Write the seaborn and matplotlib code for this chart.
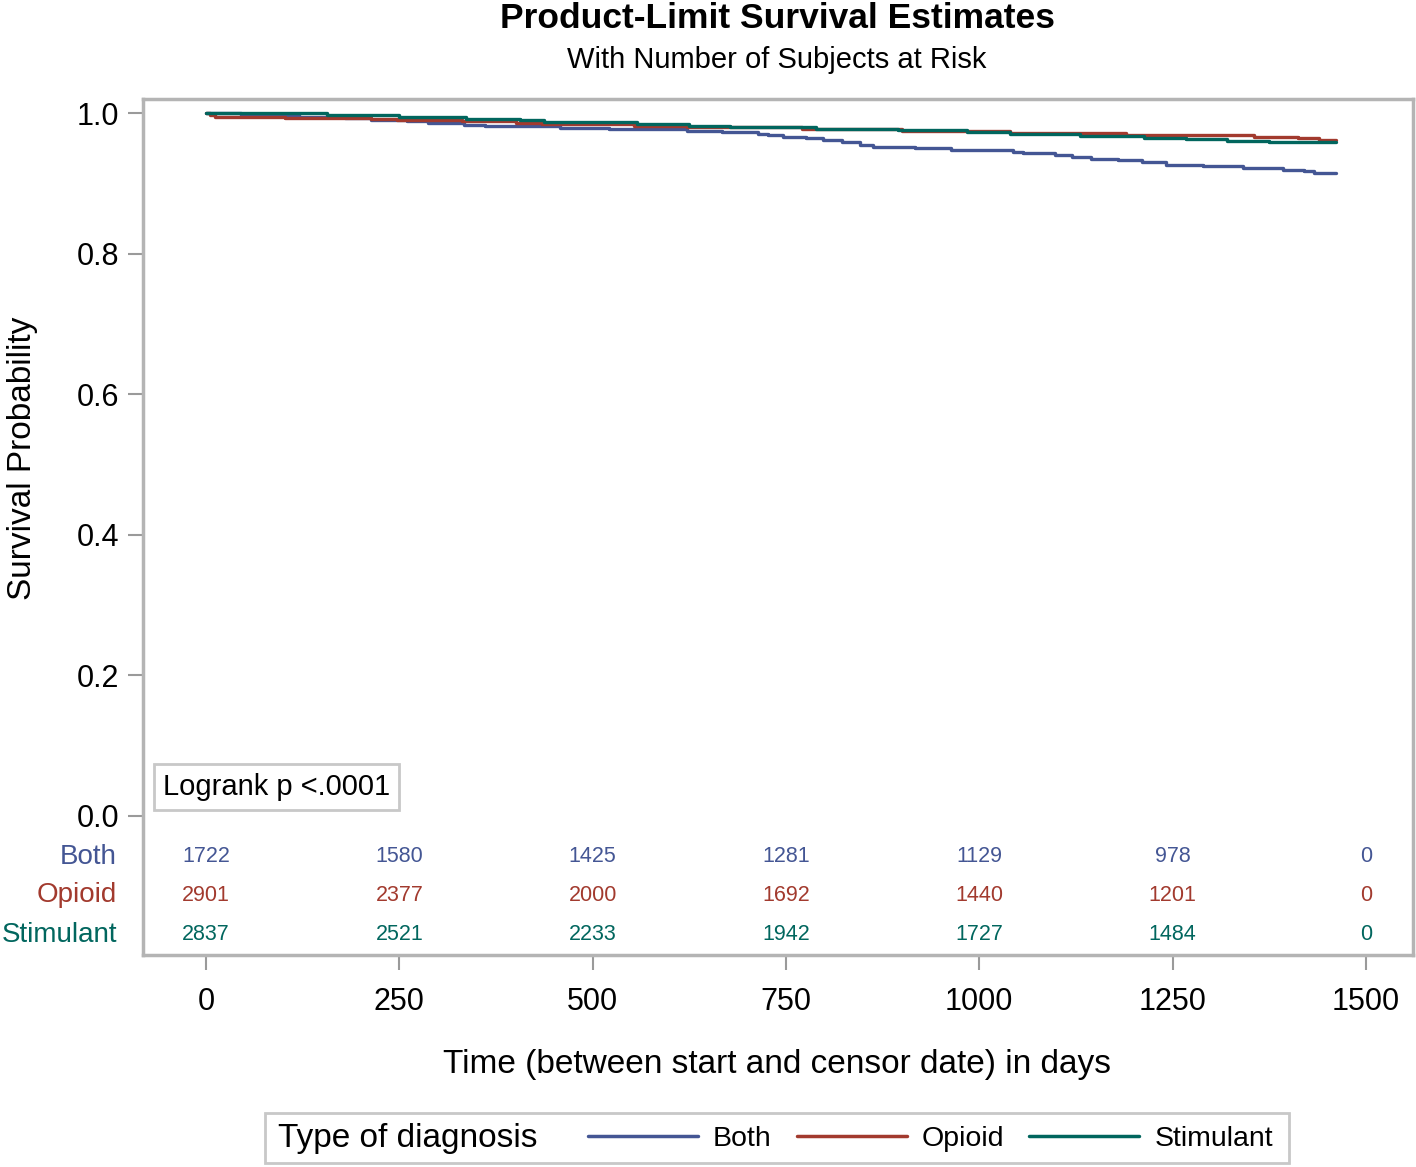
import numpy as np
import pandas as pd
import matplotlib
matplotlib.use("Agg")
import matplotlib.pyplot as plt
import seaborn as sns
from matplotlib.lines import Line2D
from matplotlib.patches import Rectangle

# survival step data (day, survival probability)
both_days = [0, 45, 120, 180, 214, 260, 287, 334, 361, 458, 521, 622, 667, 714,
             727, 746, 776, 798, 822, 846, 862, 917, 963, 1044, 1057, 1098, 1120,
             1144, 1179, 1211, 1241, 1290, 1341, 1393, 1420, 1433, 1462]
both_surv = [1.0, 0.997, 0.995, 0.993, 0.9905, 0.9886, 0.986, 0.983, 0.9815, 0.979,
             0.977, 0.9744, 0.9725, 0.970, 0.9687, 0.9663, 0.964, 0.9612, 0.9587,
             0.9545, 0.952, 0.9498, 0.9474, 0.9445, 0.9427, 0.9398, 0.9374, 0.935,
             0.9327, 0.9303, 0.926, 0.9242, 0.9222, 0.9193, 0.917, 0.9142, 0.9142]

opioid_days = [0, 5, 12, 102, 214, 247, 331, 401, 434, 553, 622, 771, 900, 1040,
               1190, 1355, 1412, 1440, 1462]
opioid_surv = [1.0, 0.997, 0.995, 0.9929, 0.9915, 0.990, 0.988, 0.9855, 0.984, 0.982,
               0.980, 0.977, 0.9745, 0.9716, 0.9687, 0.9654, 0.964, 0.962, 0.962]

stim_days = [0, 157, 250, 336, 406, 437, 557, 625, 678, 789, 895, 984, 1040, 1130,
             1213, 1268, 1320, 1375, 1462]
stim_surv = [1.0, 0.997, 0.9947, 0.992, 0.990, 0.9877, 0.985, 0.982, 0.980, 0.9777,
             0.9754, 0.9734, 0.970, 0.967, 0.965, 0.9626, 0.9606, 0.9588, 0.9588]

groups = ["Both", "Opioid", "Stimulant"]
colors = ["#445694", "#A23A2E", "#01665E"]

risk_times = [0, 250, 500, 750, 1000, 1250, 1500]
risk_both = [1722, 1580, 1425, 1281, 1129, 978, 0]
risk_opioid = [2901, 2377, 2000, 1692, 1440, 1201, 0]
risk_stim = [2837, 2521, 2233, 1942, 1727, 1484, 0]

y_ticks = [0.0, 0.2, 0.4, 0.6, 0.8, 1.0]

sns.set_theme(style="white")
plt.rcParams['font.family'] = ['Liberation Sans', 'DejaVu Sans']
plt.rcParams['text.color'] = 'black'
plt.rcParams['axes.labelcolor'] = 'black'

df = pd.concat([
    pd.DataFrame({"day": both_days, "surv": both_surv, "group": "Both"}),
    pd.DataFrame({"day": opioid_days, "surv": opioid_surv, "group": "Opioid"}),
    pd.DataFrame({"day": stim_days, "surv": stim_surv, "group": "Stimulant"}),
])

fig = plt.figure(figsize=(14.16, 11.67), dpi=100)
ax = fig.add_axes([143 / 1416, 1 - 955 / 1167, 1270 / 1416, 856 / 1167])

sns.lineplot(data=df, x="day", y="surv", hue="group", hue_order=groups,
             palette=colors, estimator=None, drawstyle="steps-post",
             linewidth=2.4, legend=False, ax=ax)

ax.set_xlim(-81.5, 1561)
ax.set_ylim(-0.198, 1.02)
ax.set_yticks(y_ticks)
ax.set_yticklabels([f"{v:.1f}" for v in y_ticks])
ax.set_xticks(risk_times)
ax.tick_params(axis="both", direction="out", length=11, width=1.5,
               color="#9a9a9a", labelcolor="black", labelsize=22,
               left=True, bottom=True)
ax.tick_params(axis="x", pad=12)
ax.tick_params(axis="y", pad=6)
for sp in ax.spines.values():
    sp.set_color("#b4b4b4")
    sp.set_linewidth(2.5)

ax.set_ylabel("Survival Probability", fontsize=24)
ax.yaxis.set_label_coords(-0.083, 0.5806)
ax.set_xlabel("Time (between start and censor date) in days", fontsize=24)
ax.xaxis.set_label_coords(0.4992, -0.11)

# number at risk table
rows = [risk_both, risk_opioid, risk_stim]
row_y = [-0.058, -0.113, -0.169]
for name, vals, yy, c in zip(groups, rows, row_y, colors):
    for t, v in zip(risk_times, vals):
        ax.text(t, yy, str(v), color=c, fontsize=15.5, ha="center", va="center")
    ax.text(-0.0205, yy, name, color=c, fontsize=20, ha="right", va="center",
            transform=ax.get_yaxis_transform())

ax.text(0.0157, 0.196, "Logrank p <.0001", transform=ax.transAxes, fontsize=21,
        ha="left", va="center",
        bbox=dict(boxstyle="square,pad=0.3", fc="white", ec="#c8c8c8", lw=2))

fig.text(777 / 1416, 1 - 19 / 1167, "Product-Limit Survival Estimates",
         fontsize=25.5, fontweight="bold", ha="center", va="center")
fig.text(777 / 1416, 1 - 60 / 1167, "With Number of Subjects at Risk",
         fontsize=21, ha="center", va="center")

# legend strip at the bottom
fig.patches.append(Rectangle((265 / 1416, 1 - 1163 / 1167), 1024 / 1416, 50 / 1167,
                             transform=fig.transFigure, fill=False,
                             ec="#c8c8c8", lw=2))
fig.text(278 / 1416, 1 - 1139 / 1167, "Type of diagnosis", fontsize=24,
         ha="left", va="center")
handles = [Line2D([0], [0], color=c, lw=2.5) for c in colors]
fig.legend(handles, groups, loc="center left",
           bbox_to_anchor=(588 / 1416, 1 - 1139 / 1167), ncol=3, frameon=False,
           fontsize=20.5, handlelength=3.86, handletextpad=0.53,
           columnspacing=0.88, borderpad=0, borderaxespad=0)

fig.savefig("out.png", dpi=100)
